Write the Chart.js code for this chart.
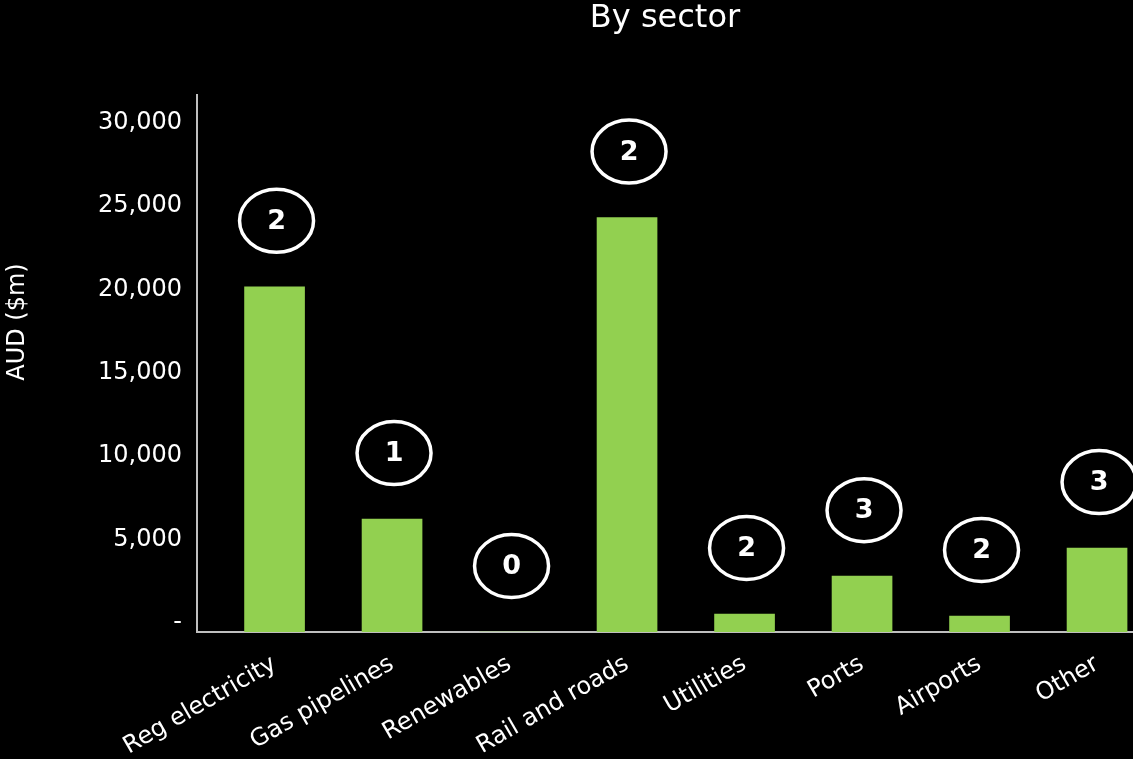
<!DOCTYPE html>
<html><head><meta charset="utf-8">
<script src="https://cdn.jsdelivr.net/npm/chart.js@4"></script>
<style>html,body{margin:0;padding:0;background:#000;overflow:hidden} canvas{display:block}</style>
</head><body>
<canvas id="c" width="1133" height="759"></canvas>
<script>
const categories = ['Reg electricity','Gas pipelines','Renewables','Rail and roads','Utilities','Ports','Airports','Other'];
const investment = [20700, 6770, 0, 24850, 1080, 3350, 960, 5030];
const dealCounts = [2, 1, 0, 2, 2, 3, 2, 3];
const yTickValues = [0, 5000, 10000, 15000, 20000, 25000, 30000];
const chartTitle = 'By sector';
const yAxisTitle = 'AUD ($m)';

const FONT = "'DejaVu Sans', Verdana, sans-serif";
const WHITE = '#ffffff';
const AXIS = '#bfbfbf';
const GREEN = '#92D050';

const bgPlugin = { id: 'bg', beforeDraw(c) { const ctx = c.ctx; ctx.save(); ctx.fillStyle = '#000'; ctx.fillRect(0, 0, c.width, c.height); ctx.restore(); } };

const yTitlePlugin = { id: 'ytitle', afterDraw(c) {
  const ctx = c.ctx; ctx.save();
  ctx.translate(18, 322); ctx.rotate(-Math.PI / 2);
  ctx.font = `24px ${FONT}`; ctx.fillStyle = WHITE; ctx.textAlign = 'center'; ctx.textBaseline = 'middle';
  ctx.fillText(yAxisTitle, 0, 0); ctx.restore();
} };

const badgePlugin = { id: 'badges', afterDatasetsDraw(c) {
  const ctx = c.ctx; const meta = c.getDatasetMeta(0);
  ctx.save();
  ctx.lineWidth = 3.5; ctx.strokeStyle = WHITE; ctx.fillStyle = WHITE;
  ctx.font = `bold 27px ${FONT}`; ctx.textAlign = 'center'; ctx.textBaseline = 'middle';
  dealCounts.forEach((n, i) => {
    const bar = meta.data[i];
    const x = bar.x + 2, y = bar.y - 66;
    ctx.beginPath(); ctx.ellipse(x, y, 37, 31.5, 0, 0, Math.PI * 2); ctx.stroke();
    ctx.fillText(String(n), x, y + 1);
  });
  ctx.restore();
} };

new Chart(document.getElementById('c'), {
  type: 'bar',
  data: { datasets: [{ data: categories.map((_, i) => ({ x: i, y: investment[i] })), backgroundColor: GREEN, barThickness: 60, borderWidth: 0 }] },
  options: {
    responsive: false, animation: false, devicePixelRatio: 1,
    layout: { padding: 0 },
    plugins: {
      legend: { display: false }, tooltip: { enabled: false },
      title: { display: true, text: chartTitle, color: WHITE, font: { family: FONT, size: 32, weight: 'normal', lineHeight: 1 }, fullSize: false, padding: { top: 3, bottom: 60 } }
    },
    scales: {
      x: {
        type: 'linear', min: -0.66, max: 7.306, offset: false,
        grid: { display: false, drawTicks: false, offset: false }, border: { display: true, color: AXIS, width: 2 },
        afterBuildTicks(s) { s.ticks = categories.map((_, i) => ({ value: i })); },
        afterFit(s) { s.height = 127; },
        ticks: { color: WHITE, font: { family: FONT, size: 24 }, autoSkip: false, minRotation: 30, maxRotation: 30, padding: 18, labelOffset: 0, callback: (v) => categories[v] ?? '' }
      },
      y: {
        min: 0, max: 32200,
        grid: { display: false, drawTicks: false }, border: { display: true, color: AXIS, width: 2 },
        afterBuildTicks(s) { s.ticks = yTickValues.map(v => ({ value: v })); },
        afterFit(s) { s.width = 197; },
        ticks: { color: WHITE, font: { family: FONT, size: 24 }, padding: 15, labelOffset: -9, callback: (v) => v === 0 ? '-' : v.toLocaleString('en-US') }
      }
    }
  },
  plugins: [bgPlugin, yTitlePlugin, badgePlugin]
});
</script>
</body></html>
